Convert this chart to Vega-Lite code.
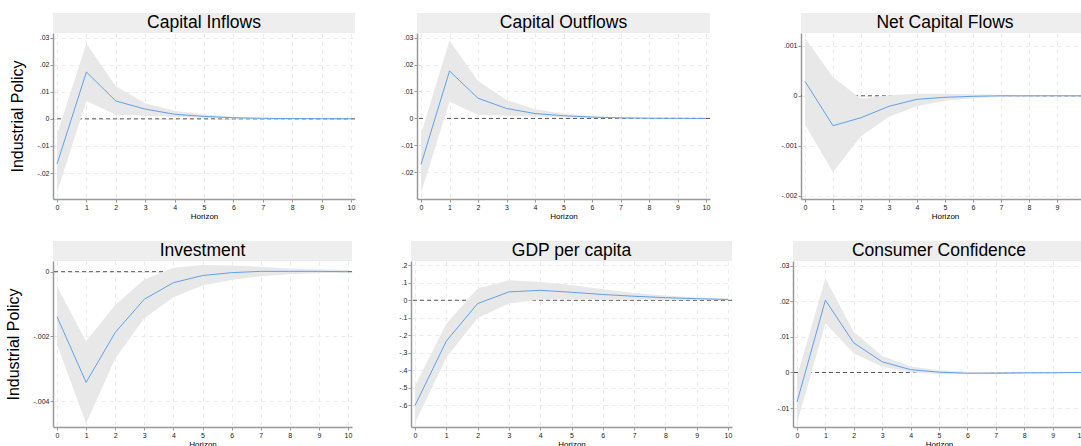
{
  "$schema": "https://vega.github.io/schema/vega-lite/v6.json",
  "background": "white",
  "padding": {"left": 5, "top": 13, "right": 0, "bottom": 0},
  "datasets": {
    "irf": [
      {"p": "CI", "h": 0, "irf": -0.0167, "lo": -0.0272, "hi": -0.0057},
      {"p": "CI", "h": 1, "irf": 0.0173, "lo": 0.0066, "hi": 0.0278},
      {"p": "CI", "h": 2, "irf": 0.0066, "lo": 0.0015, "hi": 0.012},
      {"p": "CI", "h": 3, "irf": 0.0036, "lo": 0.0011, "hi": 0.0058},
      {"p": "CI", "h": 4, "irf": 0.0017, "lo": 0.0008, "hi": 0.003},
      {"p": "CI", "h": 5, "irf": 0.0009, "lo": 0.0004, "hi": 0.0016},
      {"p": "CI", "h": 6, "irf": 0.0004, "lo": 0.0001, "hi": 0.0008},
      {"p": "CI", "h": 7, "irf": 0.0002, "lo": 0.0, "hi": 0.0004},
      {"p": "CI", "h": 8, "irf": 0.0001, "lo": 0.0, "hi": 0.0002},
      {"p": "CI", "h": 9, "irf": 0.00005, "lo": 0.0, "hi": 0.0001},
      {"p": "CI", "h": 10, "irf": 0.00002, "lo": 0.0, "hi": 0.00005},
      {"p": "CO", "h": 0, "irf": -0.0171, "lo": -0.0277, "hi": -0.0058},
      {"p": "CO", "h": 1, "irf": 0.0176, "lo": 0.0063, "hi": 0.0289},
      {"p": "CO", "h": 2, "irf": 0.0075, "lo": 0.0013, "hi": 0.0139},
      {"p": "CO", "h": 3, "irf": 0.0037, "lo": 0.001, "hi": 0.0068},
      {"p": "CO", "h": 4, "irf": 0.0018, "lo": 0.0008, "hi": 0.0034},
      {"p": "CO", "h": 5, "irf": 0.001, "lo": 0.0004, "hi": 0.0017},
      {"p": "CO", "h": 6, "irf": 0.0005, "lo": 0.0002, "hi": 0.0008},
      {"p": "CO", "h": 7, "irf": 0.0002, "lo": 0.0001, "hi": 0.0004},
      {"p": "CO", "h": 8, "irf": 0.0001, "lo": 0.0, "hi": 0.0002},
      {"p": "CO", "h": 9, "irf": 0.00005, "lo": 0.0, "hi": 0.0001},
      {"p": "CO", "h": 10, "irf": 0.00002, "lo": 0.0, "hi": 0.00005},
      {"p": "NCF", "h": 0, "irf": 0.00029, "lo": -0.00058, "hi": 0.00116},
      {"p": "NCF", "h": 1, "irf": -0.0006, "lo": -0.00153, "hi": 0.00037},
      {"p": "NCF", "h": 2, "irf": -0.00044, "lo": -0.00081, "hi": -0.00006},
      {"p": "NCF", "h": 3, "irf": -0.00021, "lo": -0.00042, "hi": 0.00001},
      {"p": "NCF", "h": 4, "irf": -0.00007, "lo": -0.00021, "hi": 0.00004},
      {"p": "NCF", "h": 5, "irf": -0.00003, "lo": -0.0001, "hi": 0.00004},
      {"p": "NCF", "h": 6, "irf": -0.00001, "lo": -0.00005, "hi": 0.00003},
      {"p": "NCF", "h": 7, "irf": 0.0, "lo": -0.00002, "hi": 0.00002},
      {"p": "NCF", "h": 8, "irf": 0.0, "lo": -0.00001, "hi": 0.00001},
      {"p": "NCF", "h": 9, "irf": 0.0, "lo": -0.00001, "hi": 0.00001},
      {"p": "NCF", "h": 10, "irf": 0.0, "lo": 0.0, "hi": 0.00001},
      {"p": "INV", "h": 0, "irf": -0.00139, "lo": -0.00224, "hi": -0.00046},
      {"p": "INV", "h": 1, "irf": -0.00342, "lo": -0.00469, "hi": -0.00215},
      {"p": "INV", "h": 2, "irf": -0.00188, "lo": -0.00268, "hi": -0.00103},
      {"p": "INV", "h": 3, "irf": -0.00085, "lo": -0.00144, "hi": -0.00024},
      {"p": "INV", "h": 4, "irf": -0.00034, "lo": -0.00079, "hi": 0.00012},
      {"p": "INV", "h": 5, "irf": -0.00012, "lo": -0.00043, "hi": 0.00021},
      {"p": "INV", "h": 6, "irf": -0.00003, "lo": -0.00026, "hi": 0.00019},
      {"p": "INV", "h": 7, "irf": 0.00001, "lo": -0.00014, "hi": 0.00015},
      {"p": "INV", "h": 8, "irf": 0.00001, "lo": -0.00008, "hi": 0.0001},
      {"p": "INV", "h": 9, "irf": 0.00001, "lo": -0.00005, "hi": 0.00007},
      {"p": "INV", "h": 10, "irf": 0.0, "lo": -0.00003, "hi": 0.00005},
      {"p": "GDP", "h": 0, "irf": -0.603, "lo": -0.703, "hi": -0.489},
      {"p": "GDP", "h": 1, "irf": -0.234, "lo": -0.329, "hi": -0.134},
      {"p": "GDP", "h": 2, "irf": -0.019, "lo": -0.102, "hi": 0.067},
      {"p": "GDP", "h": 3, "irf": 0.048, "lo": -0.019, "hi": 0.115},
      {"p": "GDP", "h": 4, "irf": 0.057, "lo": 0.004, "hi": 0.105},
      {"p": "GDP", "h": 5, "irf": 0.046, "lo": 0.004, "hi": 0.088},
      {"p": "GDP", "h": 6, "irf": 0.033, "lo": 0.003, "hi": 0.063},
      {"p": "GDP", "h": 7, "irf": 0.023, "lo": 0.003, "hi": 0.042},
      {"p": "GDP", "h": 8, "irf": 0.015, "lo": 0.002, "hi": 0.027},
      {"p": "GDP", "h": 9, "irf": 0.009, "lo": 0.001, "hi": 0.016},
      {"p": "GDP", "h": 10, "irf": 0.005, "lo": 0.001, "hi": 0.009},
      {"p": "CC", "h": 0, "irf": -0.0083, "lo": -0.0143, "hi": -0.0012},
      {"p": "CC", "h": 1, "irf": 0.0203, "lo": 0.0138, "hi": 0.0264},
      {"p": "CC", "h": 2, "irf": 0.0083, "lo": 0.0053, "hi": 0.0114},
      {"p": "CC", "h": 3, "irf": 0.003, "lo": 0.0016, "hi": 0.0046},
      {"p": "CC", "h": 4, "irf": 0.0008, "lo": 0.0, "hi": 0.0017},
      {"p": "CC", "h": 5, "irf": 0.0001, "lo": -0.0004, "hi": 0.0006},
      {"p": "CC", "h": 6, "irf": -0.0002, "lo": -0.0005, "hi": 0.0002},
      {"p": "CC", "h": 7, "irf": -0.0002, "lo": -0.0004, "hi": 0.0001},
      {"p": "CC", "h": 8, "irf": -0.0001, "lo": -0.0003, "hi": 0.0001},
      {"p": "CC", "h": 9, "irf": -0.0001, "lo": -0.0002, "hi": 0.0001},
      {"p": "CC", "h": 10, "irf": 0.0, "lo": -0.0001, "hi": 0.0001}
    ]
  },
  "spacing": 21,
  "vconcat": [
    {
      "spacing": 10,
      "hconcat": [
        {
          "spacing": 0,
          "vconcat": [
            {"width": 302, "height": 20, "view": {"fill": "#eeeeee", "stroke": null}, "data": {"values": [{"t": "Capital Inflows"}]}, "mark": {"type": "text", "fontSize": 17.5, "color": "#000000"}, "encoding": {"text": {"field": "t"}}},
            {
              "width": 302, "height": 166,
              "data": {"name": "irf"},
              "transform": [{"filter": "datum.p === 'CI'"}],
              "encoding": {
                "x": {"field": "h", "type": "quantitative", "scale": {"domain": [0, 10], "padding": 4, "nice": false}, "axis": {"values": [0,1,2,3,4,5,6,7,8,9,10], "title": "Horizon", "labelOverlap": false, "labelSeparation": 0}}
              },
              "layer": [
                {"mark": {"type": "rule", "color": "#555555", "strokeDash": [4, 3], "strokeWidth": 1}, "transform": [{"filter": "datum.h === 0"}],
                  "encoding": {"x": null, "y": {"datum": 0, "type": "quantitative", "scale": {"domain": [-0.0296, 0.0317], "nice": false, "zero": false}, "axis": {"values": [-0.02, -0.01, 0, 0.01, 0.02, 0.03], "labelExpr": "replace('' + datum.value, '0.', '.')", "title": "Industrial Policy", "minExtent": 20, "maxExtent": 20, "labelOverlap": false, "labelSeparation": 0}}}},
                {"mark": {"type": "area", "color": "#e8e8e8", "opacity": 1},
                  "encoding": {"y": {"field": "lo", "type": "quantitative", "scale": {"domain": [-0.0296, 0.0317], "nice": false, "zero": false}, "axis": {"values": [-0.02, -0.01, 0, 0.01, 0.02, 0.03], "labelExpr": "replace('' + datum.value, '0.', '.')", "title": "Industrial Policy", "minExtent": 20, "maxExtent": 20, "labelOverlap": false, "labelSeparation": 0}}, "y2": {"field": "hi"}}},
                {"mark": {"type": "line", "color": "#5fa0f0", "strokeWidth": 1},
                  "encoding": {"y": {"field": "irf", "type": "quantitative", "scale": {"domain": [-0.0296, 0.0317], "nice": false, "zero": false}, "axis": {"values": [-0.02, -0.01, 0, 0.01, 0.02, 0.03], "labelExpr": "replace('' + datum.value, '0.', '.')", "title": "Industrial Policy", "minExtent": 20, "maxExtent": 20, "labelOverlap": false, "labelSeparation": 0}}}}
              ]
            }
          ]
        },
        {
          "spacing": 0,
          "vconcat": [
            {"width": 293, "height": 20, "view": {"fill": "#eeeeee", "stroke": null}, "data": {"values": [{"t": "Capital Outflows"}]}, "mark": {"type": "text", "fontSize": 17.5, "color": "#000000"}, "encoding": {"text": {"field": "t"}}},
            {
              "width": 293, "height": 166,
              "data": {"name": "irf"},
              "transform": [{"filter": "datum.p === 'CO'"}],
              "encoding": {
                "x": {"field": "h", "type": "quantitative", "scale": {"domain": [0, 10], "padding": 4, "nice": false}, "axis": {"values": [0,1,2,3,4,5,6,7,8,9,10], "title": "Horizon", "labelOverlap": false, "labelSeparation": 0}}
              },
              "layer": [
                {"mark": {"type": "rule", "color": "#555555", "strokeDash": [4, 3], "strokeWidth": 1}, "transform": [{"filter": "datum.h === 0"}],
                  "encoding": {"x": null, "y": {"datum": 0, "type": "quantitative", "scale": {"domain": [-0.0299, 0.0317], "nice": false, "zero": false}, "axis": {"values": [-0.02, -0.01, 0, 0.01, 0.02, 0.03], "labelExpr": "replace('' + datum.value, '0.', '.')", "title": null, "minExtent": 51, "maxExtent": 51, "labelOverlap": false, "labelSeparation": 0}}}},
                {"mark": {"type": "area", "color": "#e8e8e8", "opacity": 1},
                  "encoding": {"y": {"field": "lo", "type": "quantitative", "scale": {"domain": [-0.0299, 0.0317], "nice": false, "zero": false}, "axis": {"values": [-0.02, -0.01, 0, 0.01, 0.02, 0.03], "labelExpr": "replace('' + datum.value, '0.', '.')", "title": null, "minExtent": 51, "maxExtent": 51, "labelOverlap": false, "labelSeparation": 0}}, "y2": {"field": "hi"}}},
                {"mark": {"type": "line", "color": "#5fa0f0", "strokeWidth": 1},
                  "encoding": {"y": {"field": "irf", "type": "quantitative", "scale": {"domain": [-0.0299, 0.0317], "nice": false, "zero": false}, "axis": {"values": [-0.02, -0.01, 0, 0.01, 0.02, 0.03], "labelExpr": "replace('' + datum.value, '0.', '.')", "title": null, "minExtent": 51, "maxExtent": 51, "labelOverlap": false, "labelSeparation": 0}}}}
              ]
            }
          ]
        },
        {
          "spacing": 0,
          "vconcat": [
            {"width": 288, "height": 20, "view": {"fill": "#eeeeee", "stroke": null}, "data": {"values": [{"t": "Net Capital Flows"}]}, "mark": {"type": "text", "fontSize": 17.5, "color": "#000000"}, "encoding": {"text": {"field": "t"}}},
            {
              "width": 288, "height": 166,
              "data": {"name": "irf"},
              "transform": [{"filter": "datum.p === 'NCF'"}],
              "encoding": {
                "x": {"field": "h", "type": "quantitative", "scale": {"domain": [0, 10], "padding": 4, "nice": false}, "axis": {"values": [0,1,2,3,4,5,6,7,8,9,10], "title": "Horizon", "labelOverlap": false, "labelSeparation": 0}}
              },
              "layer": [
                {"mark": {"type": "rule", "color": "#555555", "strokeDash": [4, 3], "strokeWidth": 1}, "transform": [{"filter": "datum.h === 0"}],
                  "encoding": {"x": null, "y": {"datum": 0, "type": "quantitative", "scale": {"domain": [-0.00207, 0.00126], "nice": false, "zero": false}, "axis": {"values": [-0.002, -0.001, 0, 0.001], "labelExpr": "replace('' + datum.value, '0.', '.')", "title": null, "minExtent": 80, "maxExtent": 80, "labelOverlap": false, "labelSeparation": 0}}}},
                {"mark": {"type": "area", "color": "#e8e8e8", "opacity": 1},
                  "encoding": {"y": {"field": "lo", "type": "quantitative", "scale": {"domain": [-0.00207, 0.00126], "nice": false, "zero": false}, "axis": {"values": [-0.002, -0.001, 0, 0.001], "labelExpr": "replace('' + datum.value, '0.', '.')", "title": null, "minExtent": 80, "maxExtent": 80, "labelOverlap": false, "labelSeparation": 0}}, "y2": {"field": "hi"}}},
                {"mark": {"type": "line", "color": "#5fa0f0", "strokeWidth": 1},
                  "encoding": {"y": {"field": "irf", "type": "quantitative", "scale": {"domain": [-0.00207, 0.00126], "nice": false, "zero": false}, "axis": {"values": [-0.002, -0.001, 0, 0.001], "labelExpr": "replace('' + datum.value, '0.', '.')", "title": null, "minExtent": 80, "maxExtent": 80, "labelOverlap": false, "labelSeparation": 0}}}}
              ]
            }
          ]
        }
      ]
    },
    {
      "spacing": 10,
      "hconcat": [
        {
          "spacing": 0,
          "vconcat": [
            {"width": 299, "height": 20, "view": {"fill": "#eeeeee", "stroke": null}, "data": {"values": [{"t": "Investment"}]}, "mark": {"type": "text", "fontSize": 17.5, "color": "#000000"}, "encoding": {"text": {"field": "t"}}},
            {
              "width": 299, "height": 166,
              "data": {"name": "irf"},
              "transform": [{"filter": "datum.p === 'INV'"}],
              "encoding": {
                "x": {"field": "h", "type": "quantitative", "scale": {"domain": [0, 10], "padding": 4, "nice": false}, "axis": {"values": [0,1,2,3,4,5,6,7,8,9,10], "title": "Horizon", "labelOverlap": false, "labelSeparation": 0}}
              },
              "layer": [
                {"mark": {"type": "rule", "color": "#555555", "strokeDash": [4, 3], "strokeWidth": 1}, "transform": [{"filter": "datum.h === 0"}],
                  "encoding": {"x": null, "y": {"datum": 0, "type": "quantitative", "scale": {"domain": [-0.0048, 0.00033], "nice": false, "zero": false}, "axis": {"values": [-0.004, -0.002, 0], "labelExpr": "replace('' + datum.value, '0.', '.')", "title": "Industrial Policy", "minExtent": 24, "maxExtent": 24, "labelOverlap": false, "labelSeparation": 0}}}},
                {"mark": {"type": "area", "color": "#e8e8e8", "opacity": 1},
                  "encoding": {"y": {"field": "lo", "type": "quantitative", "scale": {"domain": [-0.0048, 0.00033], "nice": false, "zero": false}, "axis": {"values": [-0.004, -0.002, 0], "labelExpr": "replace('' + datum.value, '0.', '.')", "title": "Industrial Policy", "minExtent": 24, "maxExtent": 24, "labelOverlap": false, "labelSeparation": 0}}, "y2": {"field": "hi"}}},
                {"mark": {"type": "line", "color": "#5fa0f0", "strokeWidth": 1},
                  "encoding": {"y": {"field": "irf", "type": "quantitative", "scale": {"domain": [-0.0048, 0.00033], "nice": false, "zero": false}, "axis": {"values": [-0.004, -0.002, 0], "labelExpr": "replace('' + datum.value, '0.', '.')", "title": "Industrial Policy", "minExtent": 24, "maxExtent": 24, "labelOverlap": false, "labelSeparation": 0}}}}
              ]
            }
          ]
        },
        {
          "spacing": 0,
          "vconcat": [
            {"width": 321, "height": 20, "view": {"fill": "#eeeeee", "stroke": null}, "data": {"values": [{"t": "GDP per capita"}]}, "mark": {"type": "text", "fontSize": 17.5, "color": "#000000"}, "encoding": {"text": {"field": "t"}}},
            {
              "width": 321, "height": 166,
              "data": {"name": "irf"},
              "transform": [{"filter": "datum.p === 'GDP'"}],
              "encoding": {
                "x": {"field": "h", "type": "quantitative", "scale": {"domain": [0, 10], "padding": 4, "nice": false}, "axis": {"values": [0,1,2,3,4,5,6,7,8,9,10], "title": "Horizon", "labelOverlap": false, "labelSeparation": 0}}
              },
              "layer": [
                {"mark": {"type": "rule", "color": "#555555", "strokeDash": [4, 3], "strokeWidth": 1}, "transform": [{"filter": "datum.h === 0"}],
                  "encoding": {"x": null, "y": {"datum": 0, "type": "quantitative", "scale": {"domain": [-0.726, 0.225], "nice": false, "zero": false}, "axis": {"values": [-0.6, -0.5, -0.4, -0.3, -0.2, -0.1, 0, 0.1, 0.2], "labelExpr": "replace('' + datum.value, '0.', '.')", "title": null, "minExtent": 48, "maxExtent": 48, "labelOverlap": false, "labelSeparation": 0}}}},
                {"mark": {"type": "area", "color": "#e8e8e8", "opacity": 1},
                  "encoding": {"y": {"field": "lo", "type": "quantitative", "scale": {"domain": [-0.726, 0.225], "nice": false, "zero": false}, "axis": {"values": [-0.6, -0.5, -0.4, -0.3, -0.2, -0.1, 0, 0.1, 0.2], "labelExpr": "replace('' + datum.value, '0.', '.')", "title": null, "minExtent": 48, "maxExtent": 48, "labelOverlap": false, "labelSeparation": 0}}, "y2": {"field": "hi"}}},
                {"mark": {"type": "line", "color": "#5fa0f0", "strokeWidth": 1},
                  "encoding": {"y": {"field": "irf", "type": "quantitative", "scale": {"domain": [-0.726, 0.225], "nice": false, "zero": false}, "axis": {"values": [-0.6, -0.5, -0.4, -0.3, -0.2, -0.1, 0, 0.1, 0.2], "labelExpr": "replace('' + datum.value, '0.', '.')", "title": null, "minExtent": 48, "maxExtent": 48, "labelOverlap": false, "labelSeparation": 0}}}}
              ]
            }
          ]
        },
        {
          "spacing": 0,
          "vconcat": [
            {"width": 292, "height": 20, "view": {"fill": "#eeeeee", "stroke": null}, "data": {"values": [{"t": "Consumer Confidence"}]}, "mark": {"type": "text", "fontSize": 17.5, "color": "#000000"}, "encoding": {"text": {"field": "t"}}},
            {
              "width": 292, "height": 166,
              "data": {"name": "irf"},
              "transform": [{"filter": "datum.p === 'CC'"}],
              "encoding": {
                "x": {"field": "h", "type": "quantitative", "scale": {"domain": [0, 10], "padding": 4, "nice": false}, "axis": {"values": [0,1,2,3,4,5,6,7,8,9,10], "title": "Horizon", "labelOverlap": false, "labelSeparation": 0}}
              },
              "layer": [
                {"mark": {"type": "rule", "color": "#555555", "strokeDash": [4, 3], "strokeWidth": 1}, "transform": [{"filter": "datum.h === 0"}],
                  "encoding": {"x": null, "y": {"datum": 0, "type": "quantitative", "scale": {"domain": [-0.0153, 0.0313], "nice": false, "zero": false}, "axis": {"values": [-0.01, 0, 0.01, 0.02, 0.03], "labelExpr": "replace('' + datum.value, '0.', '.')", "title": null, "minExtent": 50, "maxExtent": 50, "labelOverlap": false, "labelSeparation": 0}}}},
                {"mark": {"type": "area", "color": "#e8e8e8", "opacity": 1},
                  "encoding": {"y": {"field": "lo", "type": "quantitative", "scale": {"domain": [-0.0153, 0.0313], "nice": false, "zero": false}, "axis": {"values": [-0.01, 0, 0.01, 0.02, 0.03], "labelExpr": "replace('' + datum.value, '0.', '.')", "title": null, "minExtent": 50, "maxExtent": 50, "labelOverlap": false, "labelSeparation": 0}}, "y2": {"field": "hi"}}},
                {"mark": {"type": "line", "color": "#5fa0f0", "strokeWidth": 1},
                  "encoding": {"y": {"field": "irf", "type": "quantitative", "scale": {"domain": [-0.0153, 0.0313], "nice": false, "zero": false}, "axis": {"values": [-0.01, 0, 0.01, 0.02, 0.03], "labelExpr": "replace('' + datum.value, '0.', '.')", "title": null, "minExtent": 50, "maxExtent": 50, "labelOverlap": false, "labelSeparation": 0}}}}
              ]
            }
          ]
        }
      ]
    }
  ],
  "config": {
    "font": "Liberation Sans",
    "view": {"stroke": null},
    "axis": {
      "domainColor": "#999999", "domainWidth": 1.5, "tickColor": "#999999", "tickSize": 3, "tickWidth": 1,
      "labelFontSize": 7, "labelColor": "#222222", "labelPadding": 1, "labelFlush": false, "labelOverlap": false,
      "titleFontSize": 8, "titleFontWeight": "normal", "titleColor": "#000000", "titlePadding": 2,
      "gridColor": "#ebebeb", "gridDash": [4, 4], "gridWidth": 1, "grid": true
    },
    "axisY": {"titleFontSize": 16, "titlePadding": 8}
  }
}
